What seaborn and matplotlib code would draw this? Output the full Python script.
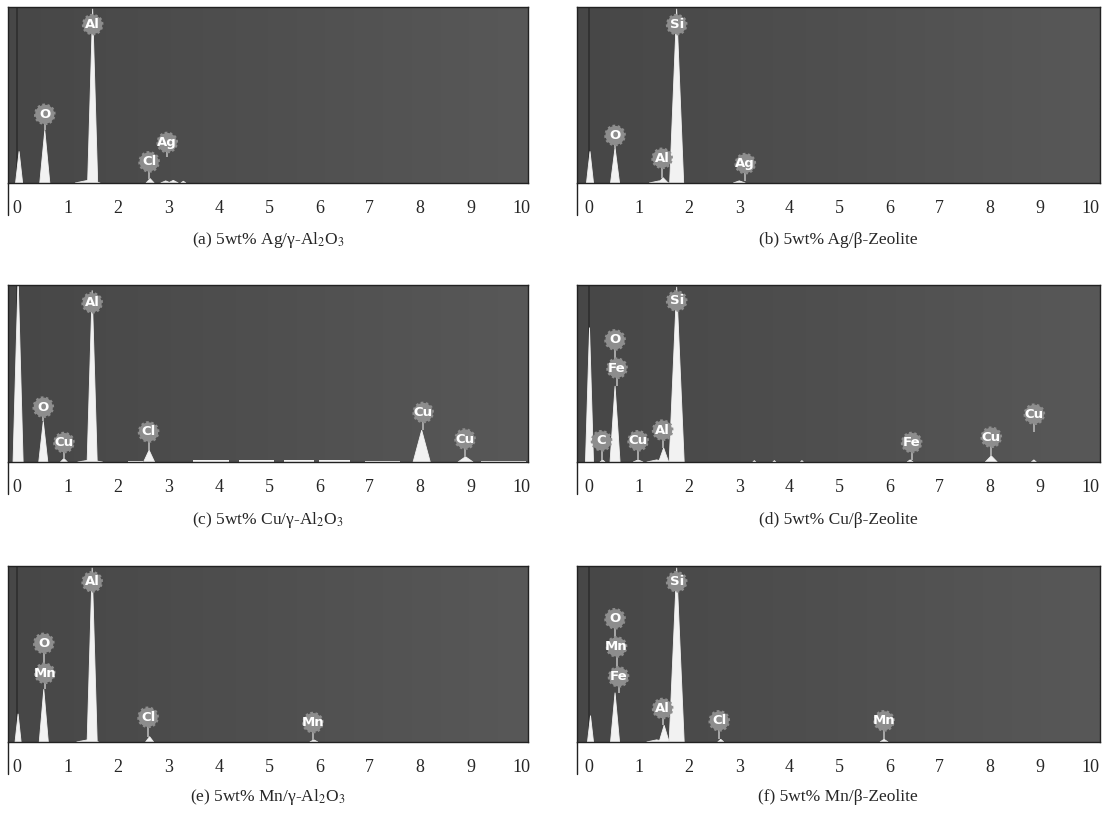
import numpy as np
import pandas as pd
import matplotlib
matplotlib.use('Agg')
import matplotlib.pyplot as plt
import seaborn as sns
from matplotlib.colors import LinearSegmentedColormap
from matplotlib.ticker import MultipleLocator

#======================================================================
# Data (energy in keV, intensity normalised to panel height)
#======================================================================
# (a) Ag / gamma-Al2O3
a_peak_x = [0.04, 0.55, 1.50, 1.40, 2.64, 2.95, 3.10, 3.30]
a_peak_h = [0.18, 0.30, 0.99, 0.015, 0.025, 0.012, 0.015, 0.010]
a_peak_w = [0.07, 0.10, 0.10, 0.25, 0.08, 0.10, 0.10, 0.05]
a_lab   = ['Al', 'O', 'Cl', 'Ag']
a_lab_x = [1.50, 0.55, 2.62, 2.98]
a_lab_y = [0.90, 0.39, 0.12, 0.23]
a_stem  = [0.90, 0.30, 0.02, 0.15]

# (b) Ag / beta-Zeolite
b_peak_x = [0.02, 0.52, 1.48, 1.40, 1.75, 3.00]
b_peak_h = [0.18, 0.20, 0.03, 0.012, 0.99, 0.012]
b_peak_w = [0.07, 0.09, 0.10, 0.20, 0.14, 0.12]
b_lab   = ['Si', 'O', 'Al', 'Ag']
b_lab_x = [1.75, 0.52, 1.46, 3.12]
b_lab_y = [0.90, 0.27, 0.14, 0.11]
b_stem  = [0.90, 0.20, 0.03, 0.01]

# (c) Cu / gamma-Al2O3
c_peak_x = [0.02, 0.52, 0.93, 1.49, 1.45, 2.62, 8.03, 8.90]
c_peak_h = [1.05, 0.23, 0.02, 0.97, 0.012, 0.067, 0.18, 0.03]
c_peak_w = [0.10, 0.09, 0.07, 0.10, 0.25, 0.11, 0.17, 0.15]
c_floor_start = [2.2, 3.5, 4.4, 5.3, 6.0, 6.9, 9.2]
c_floor_end   = [2.5, 4.2, 5.1, 5.9, 6.6, 7.6, 10.1]
c_floor_h     = [0.008, 0.012, 0.014, 0.011, 0.009, 0.006, 0.008]
c_lab   = ['O', 'Cu', 'Al', 'Cl', 'Cu', 'Cu']
c_lab_x = [0.52, 0.93, 1.49, 2.61, 8.06, 8.89]
c_lab_y = [0.31, 0.11, 0.90, 0.17, 0.28, 0.13]
c_stem  = [0.23, 0.02, 0.90, 0.067, 0.18, 0.03]

# (d) Cu / beta-Zeolite
d_peak_x = [0.01, 0.27, 0.52, 0.98, 1.49, 1.35, 1.75, 3.30, 3.70, 4.25, 6.41, 8.03, 8.88]
d_peak_h = [0.76, 0.012, 0.43, 0.012, 0.08, 0.012, 0.99, 0.008, 0.008, 0.008, 0.012, 0.035, 0.012]
d_peak_w = [0.08, 0.05, 0.10, 0.10, 0.10, 0.20, 0.15, 0.03, 0.03, 0.03, 0.06, 0.12, 0.05]
d_lab   = ['Si', 'O', 'Fe', 'C', 'Cu', 'Al', 'Fe', 'Cu', 'Cu']
d_lab_x = [1.75, 0.52, 0.56, 0.25, 0.98, 1.47, 6.44, 8.03, 8.89]
d_lab_y = [0.91, 0.69, 0.53, 0.12, 0.12, 0.18, 0.11, 0.14, 0.27]
d_stem  = [0.91, 0.53, 0.43, 0.01, 0.01, 0.08, 0.01, 0.035, 0.17]

# (e) Mn / gamma-Al2O3
e_peak_x = [0.02, 0.53, 1.49, 1.40, 2.63, 5.89]
e_peak_h = [0.16, 0.30, 0.99, 0.012, 0.03, 0.012]
e_peak_w = [0.06, 0.09, 0.10, 0.22, 0.08, 0.08]
e_lab   = ['Al', 'O', 'Mn', 'Cl', 'Mn']
e_lab_x = [1.49, 0.53, 0.55, 2.60, 5.87]
e_lab_y = [0.91, 0.56, 0.39, 0.14, 0.11]
e_stem  = [0.91, 0.39, 0.30, 0.03, 0.012]

# (f) Mn / beta-Zeolite
f_peak_x = [0.03, 0.52, 1.50, 1.35, 1.75, 2.63, 5.89]
f_peak_h = [0.15, 0.28, 0.095, 0.012, 0.99, 0.015, 0.015]
f_peak_w = [0.06, 0.09, 0.10, 0.20, 0.15, 0.06, 0.08]
f_lab   = ['Si', 'O', 'Mn', 'Fe', 'Al', 'Cl', 'Mn']
f_lab_x = [1.75, 0.52, 0.55, 0.59, 1.47, 2.60, 5.89]
f_lab_y = [0.91, 0.70, 0.54, 0.37, 0.19, 0.12, 0.12]
f_stem  = [0.91, 0.54, 0.37, 0.28, 0.095, 0.015, 0.015]

captions = ['(a) 5wt% Ag/γ-Al$_2$O$_3$', '(b) 5wt% Ag/β-Zeolite',
            '(c) 5wt% Cu/γ-Al$_2$O$_3$', '(d) 5wt% Cu/β-Zeolite',
            '(e) 5wt% Mn/γ-Al$_2$O$_3$', '(f) 5wt% Mn/β-Zeolite']
tick_values = [0, 1, 2, 3, 4, 5, 6, 7, 8, 9, 10]

panels = [
    (a_peak_x, a_peak_h, a_peak_w, a_lab, a_lab_x, a_lab_y, a_stem, None),
    (b_peak_x, b_peak_h, b_peak_w, b_lab, b_lab_x, b_lab_y, b_stem, None),
    (c_peak_x, c_peak_h, c_peak_w, c_lab, c_lab_x, c_lab_y, c_stem,
     (c_floor_start, c_floor_end, c_floor_h)),
    (d_peak_x, d_peak_h, d_peak_w, d_lab, d_lab_x, d_lab_y, d_stem, None),
    (e_peak_x, e_peak_h, e_peak_w, e_lab, e_lab_x, e_lab_y, e_stem, None),
    (f_peak_x, f_peak_h, f_peak_w, f_lab, f_lab_x, f_lab_y, f_stem, None),
]

#======================================================================
# Style
#======================================================================
sns.set_style('white')
plt.rcParams['font.family'] = ['Liberation Serif', 'DejaVu Serif']
plt.rcParams['mathtext.fontset'] = 'stix'

bg_cmap = LinearSegmentedColormap.from_list('bg', ['#474747', '#4f4f4f', '#585858'])
peak_col = '#f2f2f2'
label_col = '#8d8d8d'
stem_col = '#a8a8a8'

fig = plt.figure(figsize=(11.13, 8.14), dpi=100)

# axes rectangles in figure fractions
col_left = [0.0072, 0.5184]
col_width = [0.4672, 0.4699]
col_xlim = [(-0.18, 10.14), (-0.24, 10.20)]
row_bottom = [0.7752, 0.4324, 0.0885]
row_height = [0.2162, 0.2174, 0.2162]
cap_x = [0.2408, 0.7530]
cap_y = [1 - 240 / 814, 1 - 520 / 814, 1 - 797 / 814]

for i, (px, ph, pw, lab, lx, ly, stem, floor) in enumerate(panels):
    row, col = i // 2, i % 2
    ax = fig.add_axes([col_left[col], row_bottom[row], col_width[col], row_height[row]])

    # dark background with slight left-right gradient
    ax.imshow(np.linspace(0, 1, 256).reshape(1, -1), cmap=bg_cmap, aspect='auto',
              extent=[0, 1, 0, 1], transform=ax.transAxes, zorder=0)

    # zero line
    ax.axvline(0, color='#2e2e2e', lw=1.2, zorder=1)

    # peaks
    for x0, h0, w0 in zip(px, ph, pw):
        ax.fill([x0 - w0, x0, x0 + w0], [0, h0, 0], color=peak_col, lw=0.6,
                ec=peak_col, zorder=2)
    if floor is not None:
        for s0, e0, h0 in zip(*floor):
            ax.fill_between([s0, e0], [h0, h0], 0, color=peak_col, lw=0, zorder=2)

    # label stems
    for x0, y0, s0 in zip(lx, ly, stem):
        if s0 < y0:
            ax.plot([x0, x0], [s0, y0], color=stem_col, lw=1.4, zorder=3,
                    solid_capstyle='butt')

    # element labels
    lab_df = pd.DataFrame({'x': lx, 'y': ly, 'el': lab})
    sns.scatterplot(data=lab_df, x='x', y='y', ax=ax, s=190, color=label_col,
                    edgecolor=label_col, linewidth=1.8, linestyle=(0, (1, 1)),
                    zorder=4, legend=False)
    for _, r in lab_df.iterrows():
        ax.text(r['x'], r['y'], r['el'], color='white', fontsize=9.5,
                fontweight='bold', family='DejaVu Sans', ha='center',
                va='center', zorder=5)

    ax.set_xlim(*col_xlim[col])
    ax.set_ylim(0, 1.0)
    ax.set_xlabel('')
    ax.set_ylabel('')
    ax.set_yticks([])
    ax.set_xticks(tick_values)
    ax.set_xticklabels([str(t) for t in tick_values], fontsize=13)
    ax.xaxis.set_minor_locator(MultipleLocator(0.1))
    ax.tick_params(axis='x', which='major', direction='out', length=9, width=1,
                   color='black', pad=3)
    ax.tick_params(axis='x', which='minor', direction='out', length=3.5, width=0.8,
                   color='#333333')
    for sp in ax.spines.values():
        sp.set_color('#222222')
        sp.set_linewidth(1.0)

    # left edge of the ruler strip
    ax.plot([0, 0], [0, -0.18], transform=ax.transAxes, color='#222222',
            lw=1.0, clip_on=False)

    fig.text(cap_x[col], cap_y[row], captions[i], ha='center', va='center',
             fontsize=12.5)

plt.savefig('out.png', dpi=100)
